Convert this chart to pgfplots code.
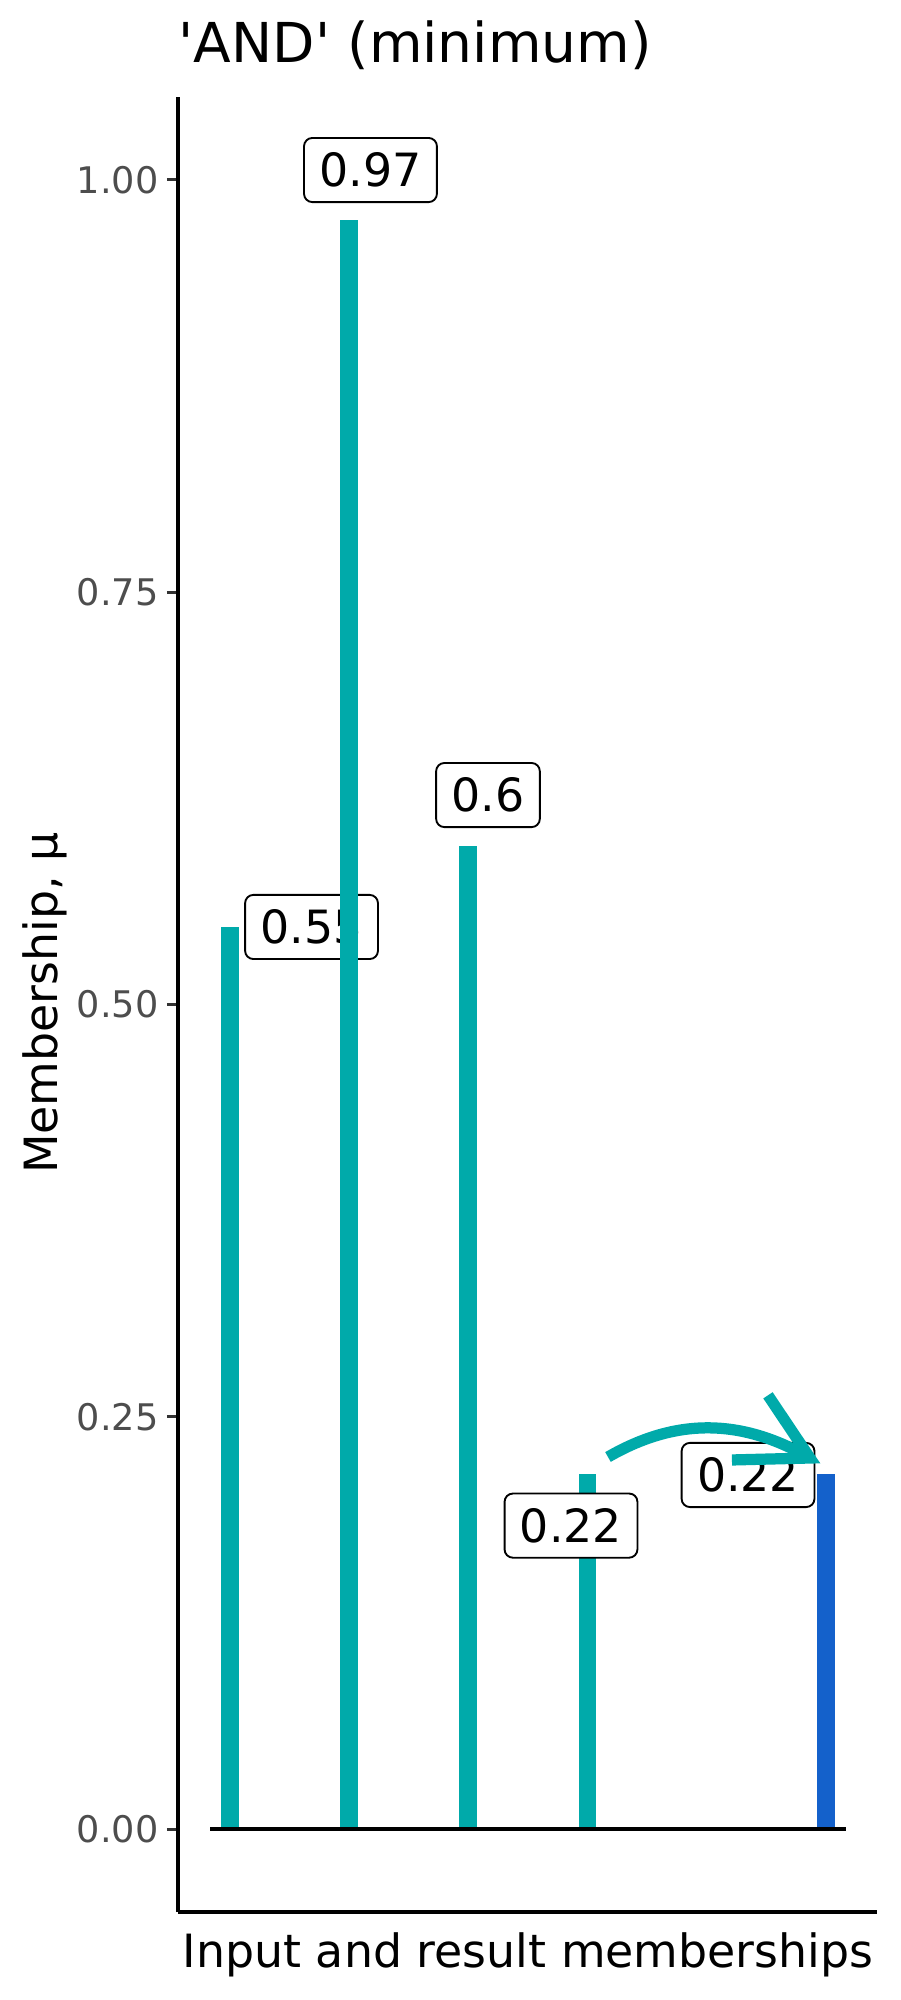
\documentclass[border=0pt]{standalone}
\usepackage{fontspec}
\setmainfont{DejaVu Sans}
\usepackage{pgfplots}
\pgfplotsset{compat=1.18}
\definecolor{tealc}{HTML}{00AAAA}
\definecolor{bluec}{HTML}{1461CB}
\definecolor{tickc}{HTML}{333333}
\definecolor{ticklab}{HTML}{4D4D4D}
\tikzset{lbl/.style={draw=black, fill=white, rounded corners=2bp, line width=0.45bp,
  font=\fontsize{11bp}{13bp}\selectfont, text height=8.0bp, text depth=0pt,
  inner xsep=3.7bp, inner ysep=3.7bp, anchor=center}}
\begin{document}
\begin{tikzpicture}
\path[use as bounding box] (0,0) rectangle (216bp,480bp);
\begin{axis}[
  at={(42.72bp,21.12bp)}, anchor=south west,
  scale only axis, width=167.76bp, height=435.6bp,
  xmin=0.5666, xmax=6.426, ymin=-0.0503, ymax=1.0503,
  enlargelimits=false, clip=false,
  axis x line*=bottom, axis y line*=left,
  axis line style={-, line width=0.8bp, black},
  xtick=\empty,
  ytick={0,0.25,0.5,0.75,1},
  tick align=outside, ytick pos=left,
  major tick length=2.64bp,
  every tick/.style={tickc, line width=0.72bp},
  yticklabel style={/pgf/number format/fixed, /pgf/number format/fixed zerofill, /pgf/number format/precision=2, /pgf/number format/assume math mode=true, font=\fontsize{8.8bp}{10bp}\selectfont, text=ticklab, xshift=1.5bp},
]
\addplot[tealc, line width=4.25bp, line cap=butt, mark=none] coordinates {(1,0) (1,0.547)};
\node[lbl] at (axis cs:1.686,0.547) {0.55};
\addplot[tealc, line width=4.25bp, line cap=butt, mark=none] coordinates {(2,0) (2,0.976)};
\node[lbl] at (axis cs:2.18,1.006) {0.97};
\addplot[tealc, line width=4.25bp, line cap=butt, mark=none] coordinates {(3,0) (3,0.596)};
\node[lbl] at (axis cs:3.165,0.627) {0.6};
\addplot[tealc, line width=4.25bp, line cap=butt, mark=none] coordinates {(4,0) (4,0.215)};
\node[lbl] at (axis cs:3.861,0.184) {0.22};
\addplot[bluec, line width=4.25bp, line cap=butt, mark=none] coordinates {(6,0) (6,0.215)};
\node[lbl] at (axis cs:5.345,0.2147) {0.22};
\addplot[black, line width=0.8bp, mark=none] coordinates {(0.835,0) (6.165,0)};
\draw[tealc, line width=2.7bp] (axis cs:4.171,0.2256) to[out=30,in=150] (axis cs:5.864,0.225);
\draw[tealc, line width=2.7bp] (axis cs:5.512,0.263) -- (axis cs:5.864,0.225) -- (axis cs:5.21,0.2238);
\end{axis}
\node[anchor=base west, inner sep=0pt, font=\fontsize{13.2bp}{15bp}\selectfont] at (42.72bp,464.88bp) {\textquotesingle AND\textquotesingle\ (minimum)};
\node[anchor=base, font=\fontsize{11bp}{13bp}\selectfont] at (126.72bp,7.92bp) {Input and result memberships};
\node[anchor=base, rotate=90, font=\fontsize{11bp}{13bp}\selectfont] at (13.8bp,239.28bp) {Membership, μ};
\end{tikzpicture}
\end{document}
